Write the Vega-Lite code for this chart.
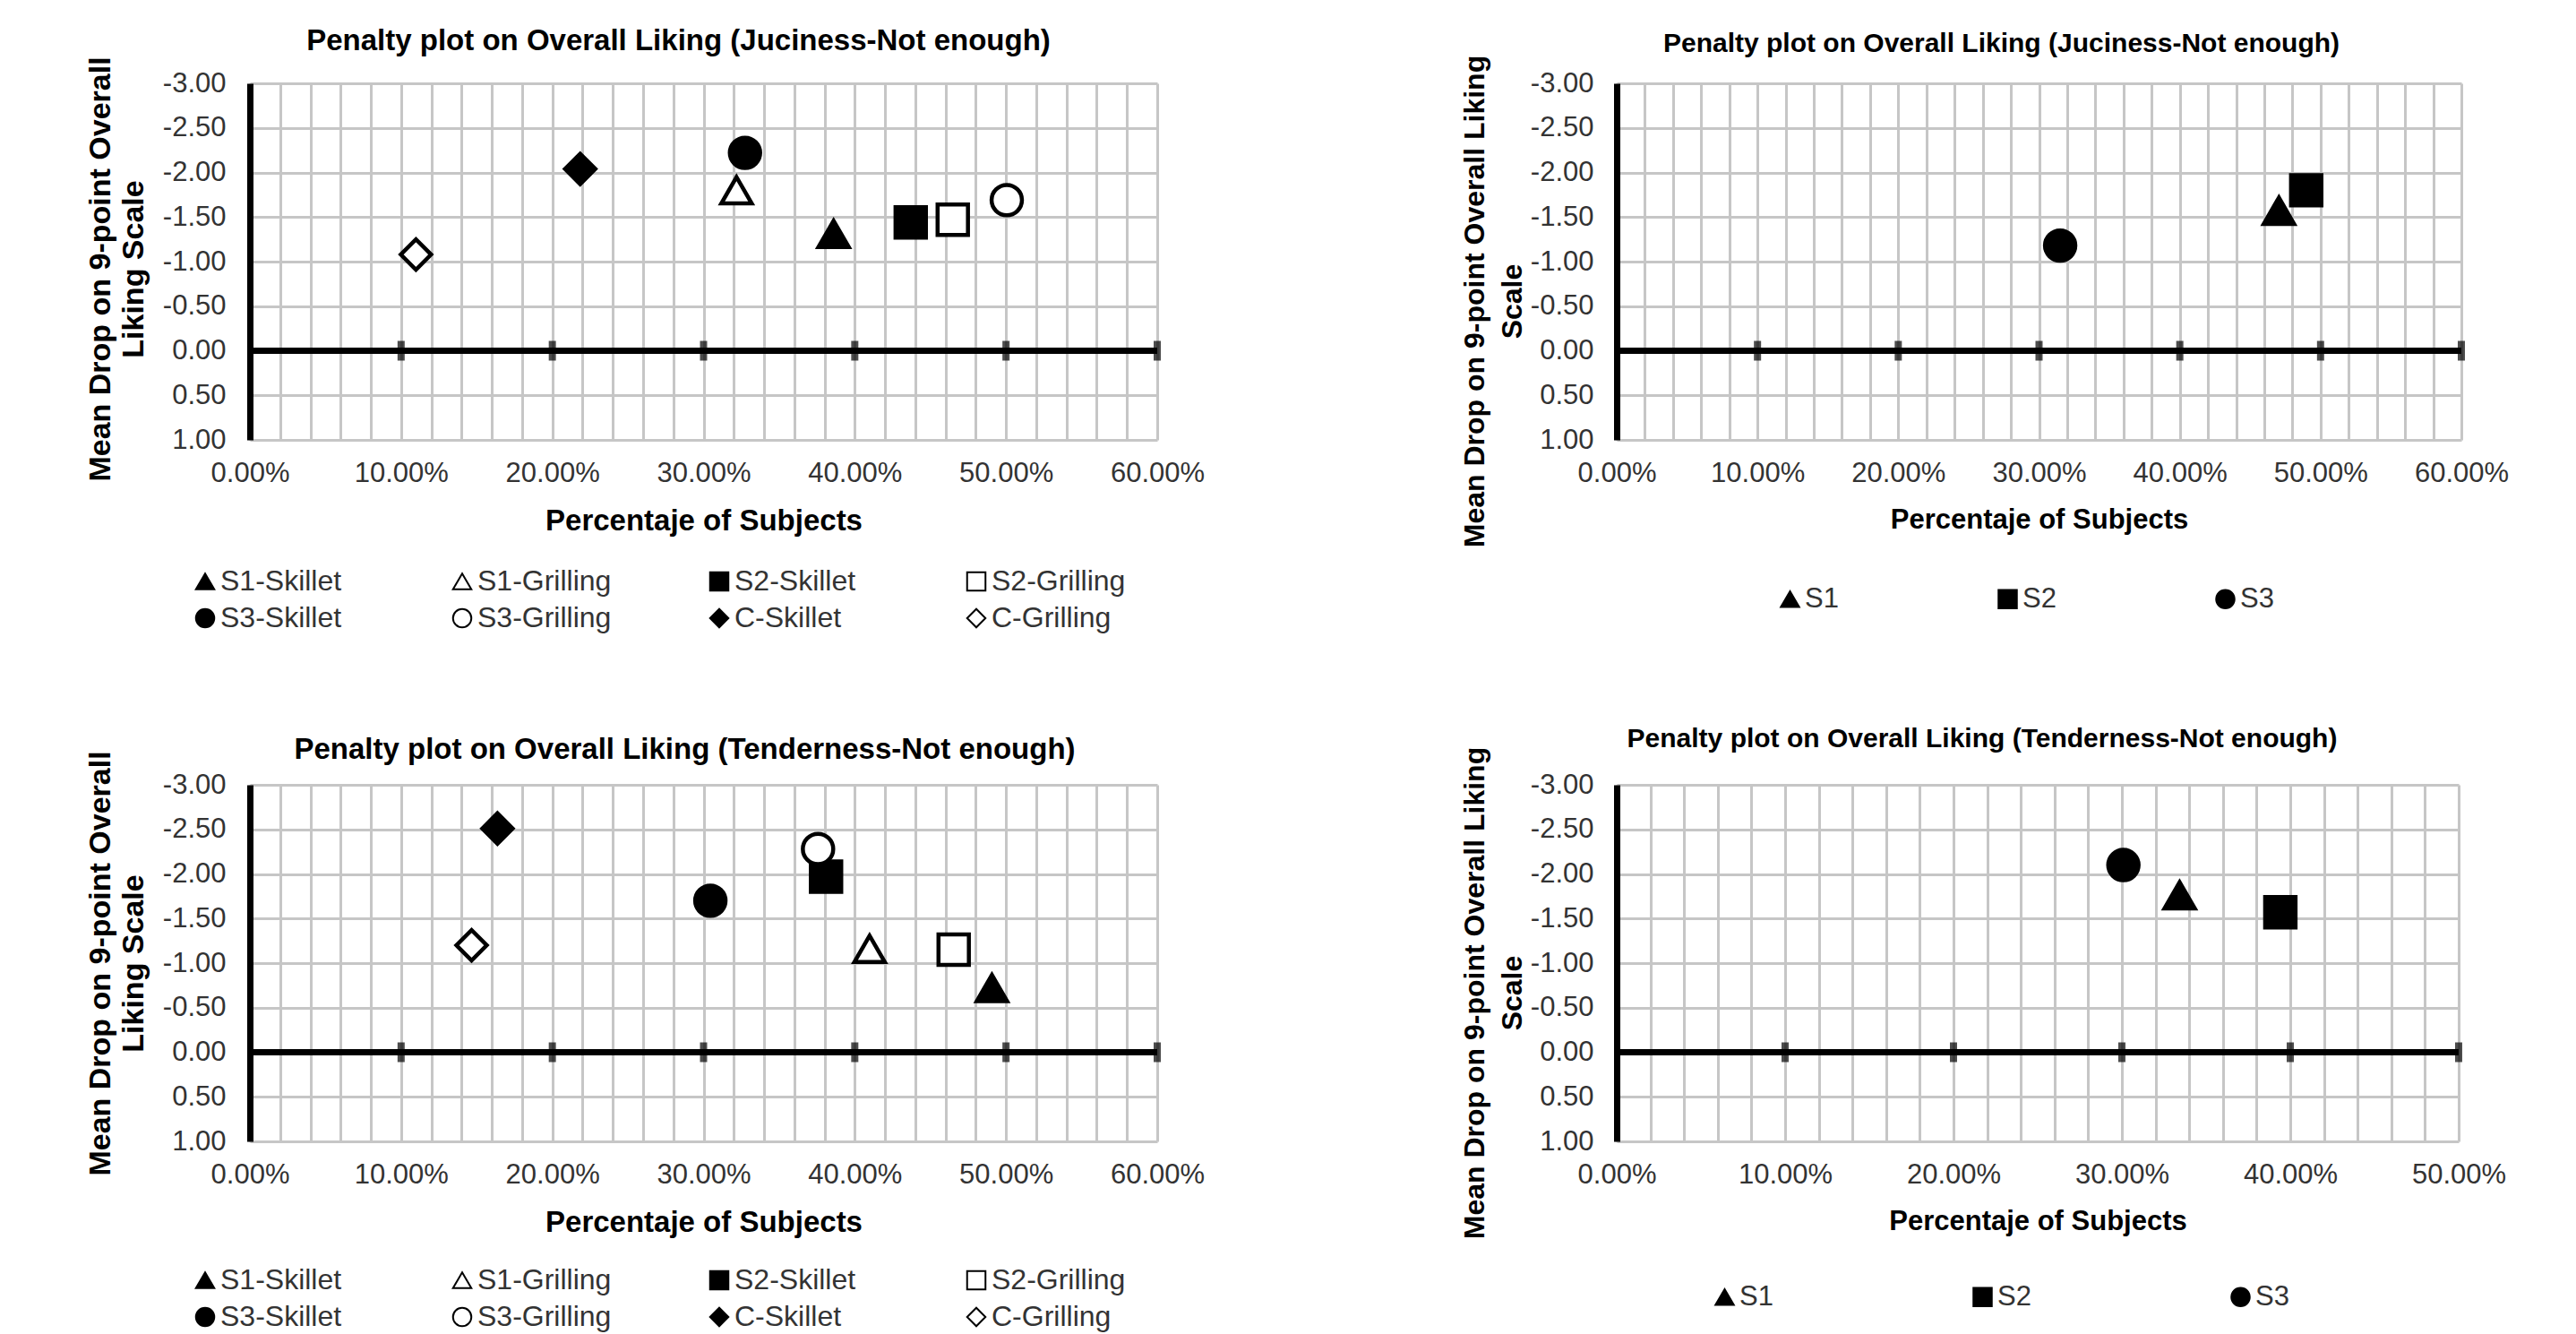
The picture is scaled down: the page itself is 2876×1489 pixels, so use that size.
{
  "$schema": "https://vega.github.io/schema/vega-lite/v6.json",
  "background": "white",
  "padding": {"left": 95, "top": 29, "right": 20, "bottom": 2},
  "datasets": {
    "juc8": [
      {"series": "S1-Skillet", "pct": 0.386, "drop": -1.31},
      {"series": "S1-Grilling", "pct": 0.3218, "drop": -1.80},
      {"series": "S2-Skillet", "pct": 0.437, "drop": -1.44},
      {"series": "S2-Grilling", "pct": 0.4648, "drop": -1.47},
      {"series": "S3-Skillet", "pct": 0.3274, "drop": -2.22},
      {"series": "S3-Grilling", "pct": 0.5005, "drop": -1.69},
      {"series": "C-Skillet", "pct": 0.2184, "drop": -2.04},
      {"series": "C-Grilling", "pct": 0.1098, "drop": -1.08}
    ],
    "juc3": [
      {"series": "S1", "pct": 0.4704, "drop": -1.57},
      {"series": "S2", "pct": 0.4898, "drop": -1.80},
      {"series": "S3", "pct": 0.315, "drop": -1.18}
    ],
    "ten8": [
      {"series": "S1-Skillet", "pct": 0.4907, "drop": -0.72},
      {"series": "S1-Grilling", "pct": 0.4098, "drop": -1.16},
      {"series": "S2-Skillet", "pct": 0.381, "drop": -1.97},
      {"series": "S2-Grilling", "pct": 0.4654, "drop": -1.15},
      {"series": "S3-Skillet", "pct": 0.3045, "drop": -1.70},
      {"series": "S3-Grilling", "pct": 0.3757, "drop": -2.28},
      {"series": "C-Skillet", "pct": 0.1637, "drop": -2.51},
      {"series": "C-Grilling", "pct": 0.1466, "drop": -1.20}
    ],
    "ten3": [
      {"series": "S1", "pct": 0.3343, "drop": -1.76},
      {"series": "S2", "pct": 0.3941, "drop": -1.57},
      {"series": "S3", "pct": 0.3009, "drop": -2.10}
    ],
    "ticks60": [{"v": 0.1}, {"v": 0.2}, {"v": 0.3}, {"v": 0.4}, {"v": 0.5}, {"v": 0.6}],
    "ticks50": [{"v": 0.1}, {"v": 0.2}, {"v": 0.3}, {"v": 0.4}, {"v": 0.5}]
  },
  "columns": 2,
  "bounds": "flush",
  "spacing": {"row": 385, "column": 513},
  "resolve": {
    "scale": {"x": "independent", "y": "independent", "shape": "independent", "fill": "independent", "stroke": "independent"},
    "axis": {"x": "independent", "y": "independent"},
    "legend": {"shape": "independent", "fill": "independent", "stroke": "independent"}
  },
  "concat": [
    {
      "width": 1013, "height": 398,
      "title": {"text": "Penalty plot on Overall Liking (Juciness-Not enough)", "fontSize": 33, "offset": 0, "dx": -28},
      "resolve": {"axis": {"x": "independent"}},
      "layer": [
        {"data": {"name": "juc8"},
         "mark": {"type": "point", "filled": true, "strokeWidth": 4.5, "size": 1150, "opacity": 1},
         "encoding": {
           "x": {"field": "pct", "type": "quantitative", "scale": {"domain": [0, 0.6], "nice": false},
                 "axis": {"orient": "bottom", "title": "Percentaje of Subjects", "titleFontSize": 33, "grid": false,
                          "values": [0, 0.1, 0.2, 0.3, 0.4, 0.5, 0.6], "format": ".2%",
                          "labelPadding": 22, "titlePadding": 22}},
           "y": {"field": "drop", "type": "quantitative", "scale": {"domain": [-3, 1], "reverse": true, "nice": false, "zero": false},
                 "axis": {"title": ["Mean Drop on 9-point Overall", "Liking  Scale"], "titleFontSize": 34, "titleLineHeight": 37, "titleY": 207,
                          "grid": true, "values": [-3,-2.5,-2,-1.5,-1,-0.5,0,0.5,1], "format": ".2f",
                          "labelExpr": "replace(datum.label, '\u2212', '-')",
                          "domain": true, "domainColor": "black", "domainWidth": 7,
                          "labelPadding": 27, "titlePadding": 15}},
           "shape": {"field": "series", "type": "nominal",
                     "scale": {"domain": ["S1-Skillet","S1-Grilling","S2-Skillet","S2-Grilling","S3-Skillet","S3-Grilling","C-Skillet","C-Grilling"],
                               "range": ["triangle-up","triangle-up","square","square","circle","circle","diamond","diamond"]},
                     "legend": {"title": null, "orient": "none", "legendX": -66, "legendY": 540, "direction": "horizontal", "columns": 4, "gridAlign": "all", "columnPadding": 104, "rowPadding": 9, "labelFontSize": 32, "symbolSize": 420, "symbolStrokeWidth": 2, "labelOffset": 1, "padding": 0}},
           "fill": {"field": "series", "type": "nominal",
                    "scale": {"domain": ["S1-Skillet","S1-Grilling","S2-Skillet","S2-Grilling","S3-Skillet","S3-Grilling","C-Skillet","C-Grilling"],
                              "range": ["black","white","black","white","black","white","black","white"]},
                    "legend": {"title": null, "orient": "none", "legendX": -66, "legendY": 540, "direction": "horizontal", "columns": 4, "gridAlign": "all", "columnPadding": 104, "rowPadding": 9, "labelFontSize": 32, "symbolSize": 420, "symbolStrokeWidth": 2, "labelOffset": 1, "padding": 0}},
           "stroke": {"field": "series", "type": "nominal",
                    "scale": {"domain": ["S1-Skillet","S1-Grilling","S2-Skillet","S2-Grilling","S3-Skillet","S3-Grilling","C-Skillet","C-Grilling"],
                              "range": ["black","black","black","black","black","black","black","black"]},
                    "legend": {"title": null, "orient": "none", "legendX": -66, "legendY": 540, "direction": "horizontal", "columns": 4, "gridAlign": "all", "columnPadding": 104, "rowPadding": 9, "labelFontSize": 32, "symbolSize": 420, "symbolStrokeWidth": 2, "labelOffset": 1, "padding": 0}}
         }},
        {"data": {"name": "juc8"}, "mark": {"type": "rule", "color": "black", "strokeWidth": 7},
         "encoding": {"y": {"datum": 0, "type": "quantitative"}}},
        {"data": {"name": "ticks60"}, "mark": {"type": "tick", "orient": "vertical", "color": "black", "size": 22, "thickness": 8},
         "encoding": {"x": {"field": "v", "type": "quantitative",
                            "axis": {"orient": "bottom", "title": null, "labels": false, "grid": true, "domain": false, "ticks": false,
                                     "values": [0,0.02,0.04,0.06,0.08,0.1,0.12,0.14,0.16,0.18,0.2,0.22,0.24,0.26,0.28,0.3,0.32,0.34,0.36,0.38,0.4,0.42,0.44,0.46,0.48,0.5,0.52,0.54,0.56,0.58,0.6]}},
                      "y": {"datum": 0, "type": "quantitative"}}}
      ]
    },
    {
      "width": 943, "height": 398,
      "title": {"text": "Penalty plot on Overall Liking (Juciness-Not enough)", "fontSize": 30, "offset": -3, "dx": -42},
      "resolve": {"axis": {"x": "independent"}},
      "layer": [
        {"data": {"name": "juc3"},
         "mark": {"type": "point", "filled": true, "strokeWidth": 4.5, "size": 1150, "opacity": 1},
         "encoding": {
           "x": {"field": "pct", "type": "quantitative", "scale": {"domain": [0, 0.6], "nice": false},
                 "axis": {"orient": "bottom", "title": "Percentaje of Subjects", "titleFontSize": 31, "grid": false,
                          "values": [0, 0.1, 0.2, 0.3, 0.4, 0.5, 0.6], "format": ".2%",
                          "labelPadding": 22, "titlePadding": 22}},
           "y": {"field": "drop", "type": "quantitative", "scale": {"domain": [-3, 1], "reverse": true, "nice": false, "zero": false},
                 "axis": {"title": ["Mean Drop on 9-point Overall Liking", "Scale"], "titleFontSize": 32, "titleLineHeight": 42, "titleY": 243,
                          "grid": true, "values": [-3,-2.5,-2,-1.5,-1,-0.5,0,0.5,1], "format": ".2f",
                          "labelExpr": "replace(datum.label, '\u2212', '-')",
                          "domain": true, "domainColor": "black", "domainWidth": 7,
                          "labelPadding": 26, "titlePadding": 3}},
           "shape": {"field": "series", "type": "nominal",
                     "scale": {"domain": ["S1","S2","S3"], "range": ["triangle-up","square","circle"]},
                     "legend": {"title": null, "orient": "none", "legendX": 178, "legendY": 560, "direction": "horizontal", "columns": 3, "gridAlign": "all", "columnPadding": 173, "labelFontSize": 31, "symbolSize": 420, "symbolStrokeWidth": 2, "labelOffset": 1, "padding": 0}},
           "fill": {"field": "series", "type": "nominal",
                    "scale": {"domain": ["S1","S2","S3"], "range": ["black","black","black"]},
                    "legend": {"title": null, "orient": "none", "legendX": 178, "legendY": 560, "direction": "horizontal", "columns": 3, "gridAlign": "all", "columnPadding": 173, "labelFontSize": 31, "symbolSize": 420, "symbolStrokeWidth": 2, "labelOffset": 1, "padding": 0}},
           "stroke": {"field": "series", "type": "nominal",
                    "scale": {"domain": ["S1","S2","S3"], "range": ["black","black","black"]},
                    "legend": {"title": null, "orient": "none", "legendX": 178, "legendY": 560, "direction": "horizontal", "columns": 3, "gridAlign": "all", "columnPadding": 173, "labelFontSize": 31, "symbolSize": 420, "symbolStrokeWidth": 2, "labelOffset": 1, "padding": 0}}
         }},
        {"data": {"name": "juc3"}, "mark": {"type": "rule", "color": "black", "strokeWidth": 7},
         "encoding": {"y": {"datum": 0, "type": "quantitative"}}},
        {"data": {"name": "ticks60"}, "mark": {"type": "tick", "orient": "vertical", "color": "black", "size": 22, "thickness": 8},
         "encoding": {"x": {"field": "v", "type": "quantitative",
                            "axis": {"orient": "bottom", "title": null, "labels": false, "grid": true, "domain": false, "ticks": false,
                                     "values": [0,0.02,0.04,0.06,0.08,0.1,0.12,0.14,0.16,0.18,0.2,0.22,0.24,0.26,0.28,0.3,0.32,0.34,0.36,0.38,0.4,0.42,0.44,0.46,0.48,0.5,0.52,0.54,0.56,0.58,0.6]}},
                      "y": {"datum": 0, "type": "quantitative"}}}
      ]
    },
    {
      "width": 1013, "height": 398,
      "title": {"text": "Penalty plot on Overall Liking (Tenderness-Not enough)", "fontSize": 33, "offset": -16, "dx": -21},
      "resolve": {"axis": {"x": "independent"}},
      "layer": [
        {"data": {"name": "ten8"},
         "mark": {"type": "point", "filled": true, "strokeWidth": 4.5, "size": 1150, "opacity": 1},
         "encoding": {
           "x": {"field": "pct", "type": "quantitative", "scale": {"domain": [0, 0.6], "nice": false},
                 "axis": {"orient": "bottom", "title": "Percentaje of Subjects", "titleFontSize": 33, "grid": false,
                          "values": [0, 0.1, 0.2, 0.3, 0.4, 0.5, 0.6], "format": ".2%",
                          "labelPadding": 22, "titlePadding": 22}},
           "y": {"field": "drop", "type": "quantitative", "scale": {"domain": [-3, 1], "reverse": true, "nice": false, "zero": false},
                 "axis": {"title": ["Mean Drop on 9-point Overall", "Liking Scale"], "titleFontSize": 34, "titleLineHeight": 37,
                          "grid": true, "values": [-3,-2.5,-2,-1.5,-1,-0.5,0,0.5,1], "format": ".2f",
                          "labelExpr": "replace(datum.label, '\u2212', '-')",
                          "domain": true, "domainColor": "black", "domainWidth": 7,
                          "labelPadding": 27, "titlePadding": 15}},
           "shape": {"field": "series", "type": "nominal",
                     "scale": {"domain": ["S1-Skillet","S1-Grilling","S2-Skillet","S2-Grilling","S3-Skillet","S3-Grilling","C-Skillet","C-Grilling"],
                               "range": ["triangle-up","triangle-up","square","square","circle","circle","diamond","diamond"]},
                     "legend": {"title": null, "orient": "none", "legendX": -66, "legendY": 537, "direction": "horizontal", "columns": 4, "gridAlign": "all", "columnPadding": 104, "rowPadding": 9, "labelFontSize": 32, "symbolSize": 420, "symbolStrokeWidth": 2, "labelOffset": 1, "padding": 0}},
           "fill": {"field": "series", "type": "nominal",
                    "scale": {"domain": ["S1-Skillet","S1-Grilling","S2-Skillet","S2-Grilling","S3-Skillet","S3-Grilling","C-Skillet","C-Grilling"],
                              "range": ["black","white","black","white","black","white","black","white"]},
                    "legend": {"title": null, "orient": "none", "legendX": -66, "legendY": 537, "direction": "horizontal", "columns": 4, "gridAlign": "all", "columnPadding": 104, "rowPadding": 9, "labelFontSize": 32, "symbolSize": 420, "symbolStrokeWidth": 2, "labelOffset": 1, "padding": 0}},
           "stroke": {"field": "series", "type": "nominal",
                    "scale": {"domain": ["S1-Skillet","S1-Grilling","S2-Skillet","S2-Grilling","S3-Skillet","S3-Grilling","C-Skillet","C-Grilling"],
                              "range": ["black","black","black","black","black","black","black","black"]},
                    "legend": {"title": null, "orient": "none", "legendX": -66, "legendY": 537, "direction": "horizontal", "columns": 4, "gridAlign": "all", "columnPadding": 104, "rowPadding": 9, "labelFontSize": 32, "symbolSize": 420, "symbolStrokeWidth": 2, "labelOffset": 1, "padding": 0}}
         }},
        {"data": {"name": "ten8"}, "mark": {"type": "rule", "color": "black", "strokeWidth": 7},
         "encoding": {"y": {"datum": 0, "type": "quantitative"}}},
        {"data": {"name": "ticks60"}, "mark": {"type": "tick", "orient": "vertical", "color": "black", "size": 22, "thickness": 8},
         "encoding": {"x": {"field": "v", "type": "quantitative",
                            "axis": {"orient": "bottom", "title": null, "labels": false, "grid": true, "domain": false, "ticks": false,
                                     "values": [0,0.02,0.04,0.06,0.08,0.1,0.12,0.14,0.16,0.18,0.2,0.22,0.24,0.26,0.28,0.3,0.32,0.34,0.36,0.38,0.4,0.42,0.44,0.46,0.48,0.5,0.52,0.54,0.56,0.58,0.6]}},
                      "y": {"datum": 0, "type": "quantitative"}}}
      ]
    },
    {
      "width": 940, "height": 398,
      "title": {"text": "Penalty plot on Overall Liking (Tenderness-Not enough)", "fontSize": 30, "offset": -7, "dx": -62},
      "resolve": {"axis": {"x": "independent"}},
      "layer": [
        {"data": {"name": "ten3"},
         "mark": {"type": "point", "filled": true, "strokeWidth": 4.5, "size": 1150, "opacity": 1},
         "encoding": {
           "x": {"field": "pct", "type": "quantitative", "scale": {"domain": [0, 0.5], "nice": false},
                 "axis": {"orient": "bottom", "title": "Percentaje of Subjects", "titleFontSize": 31, "grid": false,
                          "values": [0, 0.1, 0.2, 0.3, 0.4, 0.5], "format": ".2%",
                          "labelPadding": 22, "titlePadding": 22}},
           "y": {"field": "drop", "type": "quantitative", "scale": {"domain": [-3, 1], "reverse": true, "nice": false, "zero": false},
                 "axis": {"title": ["Mean Drop on 9-point Overall Liking", "Scale"], "titleFontSize": 32, "titleLineHeight": 42, "titleY": 232,
                          "grid": true, "values": [-3,-2.5,-2,-1.5,-1,-0.5,0,0.5,1], "format": ".2f",
                          "labelExpr": "replace(datum.label, '\u2212', '-')",
                          "domain": true, "domainColor": "black", "domainWidth": 7,
                          "labelPadding": 26, "titlePadding": 3}},
           "shape": {"field": "series", "type": "nominal",
                     "scale": {"domain": ["S1","S2","S3"], "range": ["triangle-up","square","circle"]},
                     "legend": {"title": null, "orient": "none", "legendX": 105, "legendY": 556, "direction": "horizontal", "columns": 3, "gridAlign": "all", "columnPadding": 218, "labelFontSize": 31, "symbolSize": 420, "symbolStrokeWidth": 2, "labelOffset": 1, "padding": 0}},
           "fill": {"field": "series", "type": "nominal",
                    "scale": {"domain": ["S1","S2","S3"], "range": ["black","black","black"]},
                    "legend": {"title": null, "orient": "none", "legendX": 105, "legendY": 556, "direction": "horizontal", "columns": 3, "gridAlign": "all", "columnPadding": 218, "labelFontSize": 31, "symbolSize": 420, "symbolStrokeWidth": 2, "labelOffset": 1, "padding": 0}},
           "stroke": {"field": "series", "type": "nominal",
                    "scale": {"domain": ["S1","S2","S3"], "range": ["black","black","black"]},
                    "legend": {"title": null, "orient": "none", "legendX": 105, "legendY": 556, "direction": "horizontal", "columns": 3, "gridAlign": "all", "columnPadding": 218, "labelFontSize": 31, "symbolSize": 420, "symbolStrokeWidth": 2, "labelOffset": 1, "padding": 0}}
         }},
        {"data": {"name": "ten3"}, "mark": {"type": "rule", "color": "black", "strokeWidth": 7},
         "encoding": {"y": {"datum": 0, "type": "quantitative"}}},
        {"data": {"name": "ticks50"}, "mark": {"type": "tick", "orient": "vertical", "color": "black", "size": 22, "thickness": 8},
         "encoding": {"x": {"field": "v", "type": "quantitative",
                            "axis": {"orient": "bottom", "title": null, "labels": false, "grid": true, "domain": false, "ticks": false,
                                     "values": [0,0.02,0.04,0.06,0.08,0.1,0.12,0.14,0.16,0.18,0.2,0.22,0.24,0.26,0.28,0.3,0.32,0.34,0.36,0.38,0.4,0.42,0.44,0.46,0.48,0.5]}},
                      "y": {"datum": 0, "type": "quantitative"}}}
      ]
    }
  ],
  "config": {
    "font": "Liberation Sans",
    "view": {"stroke": null},
    "axis": {"labelFont": "Liberation Sans", "labelFontSize": 31, "labelColor": "#333333", "titleFont": "Liberation Sans", "titleFontWeight": "bold", "titleColor": "black",
             "gridColor": "#c6c6c6", "gridWidth": 3, "ticks": false, "tickSize": 0, "domain": false, "labelFlush": false, "labelOverlap": false, "titleLimit": 3000, "labelLimit": 500},
    "title": {"font": "Liberation Sans", "fontWeight": "bold", "color": "black", "anchor": "middle", "frame": "group"},
    "legend": {"labelFont": "Liberation Sans", "labelColor": "#333333", "symbolStrokeColor": "black"}
  }
}
